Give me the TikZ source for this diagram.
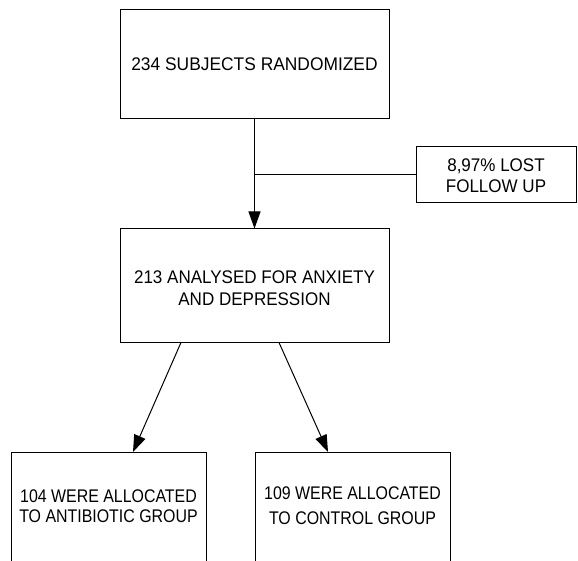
\documentclass[tikz,border=0pt]{standalone}
\usepackage{fontspec}
\setmainfont{Liberation Sans}
\newfontfamily\fTop[FakeStretch=0.95]{Liberation Sans}
\newfontfamily\fMid[FakeStretch=0.93]{Liberation Sans}
\newfontfamily\fLost[FakeStretch=0.93]{Liberation Sans}
\newfontfamily\fBot[FakeStretch=0.87]{Liberation Sans}
\usetikzlibrary{arrows.meta,calc}
\begin{document}
\begin{tikzpicture}[x=1pt,y=-1pt,
  box/.style={draw=black, line width=1pt, rectangle, inner sep=0pt, align=center},
  txt/.style={inner sep=0pt, align=center},
  conn/.style={line width=1pt, draw=black},
  arr/.style={conn, -{Triangle[length=17pt,width=12pt]}}]
\clip (0,0) rectangle (578,561);
\fill[white] (0,0) rectangle (578,561);
\node[box, minimum width=269pt, minimum height=109pt, font=\fTop\fontsize{18.3}{21}\selectfont] (top) at (254.5,64.5) {234 SUBJECTS RANDOMIZED};
\node[box, minimum width=160pt, minimum height=56pt, font=\fLost\fontsize{18.3}{21}\selectfont] (lost) at (496,175) {\rule{0pt}{15pt}8,97\% LOST\\FOLLOW UP};
\node[box, minimum width=269pt, minimum height=113pt, font=\fMid\fontsize{18.3}{21.3}\selectfont] (mid) at (254.5,285.5) {\rule{0pt}{18pt}213 ANALYSED FOR ANXIETY\\AND DEPRESSION};
\node[box, minimum width=195pt, minimum height=200pt, anchor=north] (left) at (108.5,452) {};
\node[box, minimum width=195pt, minimum height=200pt, anchor=north] (right) at (352.5,452) {};
\node[txt, font=\fBot\fontsize{18.3}{19.7}\selectfont] (lefttext) at (108.5,506.3) {104 WERE ALLOCATED\\TO ANTIBIOTIC GROUP};
\node[txt, font=\fBot\fontsize{18.3}{25.7}\selectfont] (righttext) at (352.5,505.8) {109 WERE ALLOCATED\\TO CONTROL GROUP};
\draw[arr] (top.south) -- (mid.north);
\draw[conn] (lost.west) -- (lost.west -| top.south);
\draw[arr] ($(mid.south)+(-73.5,0)$) -- ($(left.north)+(24.5,0)$);
\draw[arr] ($(mid.south)+(24.5,0)$) -- ($(right.north)+(-24.5,0)$);
\end{tikzpicture}
\end{document}
